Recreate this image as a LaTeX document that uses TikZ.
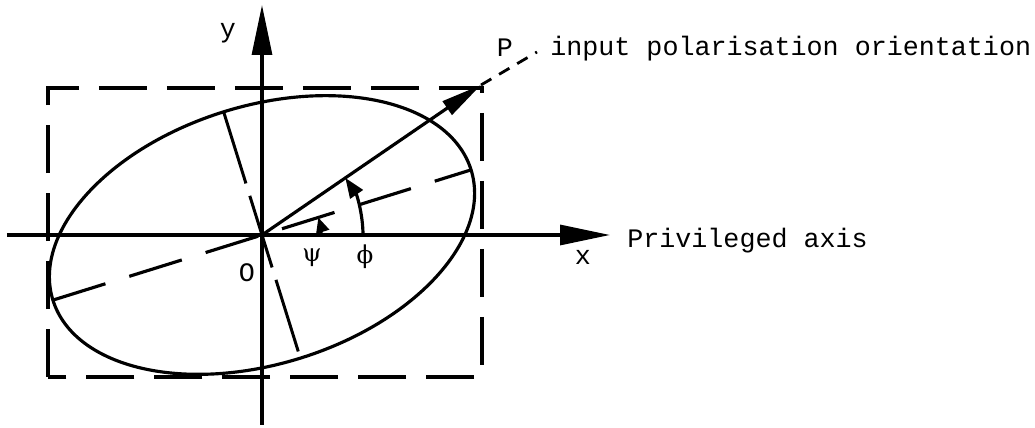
\documentclass[tikz,border=0pt]{standalone}
\usepackage{fontspec}
\setmonofont{Liberation Mono}
\newfontfamily\greekfont{DejaVu Serif}
\usetikzlibrary{arrows.meta}
\begin{document}
\begin{tikzpicture}[x=0.02cm,y=0.02cm,
  line/.style={line width=1.8pt},
  axistip/.style={-{Triangle[length=1cm,width=0.4cm]}},
  ptip/.style={-{Triangle[length=0.82cm,width=0.32cm]}},
  psitip/.style={-{Triangle[length=0.3cm,width=0.26cm]}},
  phitip/.style={-{Triangle[length=0.4cm,width=0.3cm]}},
  rectdash/.style={line width=1.8pt,dash pattern=on 0.96cm off 0.4cm},
  majdash/.style={line width=1.8pt,dash pattern=on 1.1cm off 0.5cm},
  mindash/.style={line width=1.7pt,dash pattern=on 1.5cm off 0.26cm},
  pdash/.style={line width=1.6pt,dash pattern=on 0.24cm off 0.18cm},
  lbl/.style={font=\ttfamily\fontsize{15.2}{18}\selectfont,inner sep=0pt},
  glbl/.style={font=\greekfont\fontsize{14}{16}\selectfont,inner sep=0pt}]
\useasboundingbox (-262,-193) rectangle (773,235);
% points
\coordinate (O) at (0,0);
\coordinate (ytop) at (0,230);
\coordinate (ybot) at (0,-190);
\coordinate (xleft) at (-255,0);
\coordinate (xright) at (348,0);
\coordinate (RA) at (-214,-142);
\coordinate (RB) at (220,147);
\coordinate (Ma) at (197.3:219);
\coordinate (Mb) at (17.3:219);
\coordinate (Na) at (107.3:129);
\coordinate (Nb) at (287.3:129);
\coordinate (P) at (219,150);
\coordinate (Pend) at (275,183);
% box and ellipse
\draw[rectdash] (RA) rectangle (RB);
\draw[line] (O) ellipse [x radius=219,y radius=129,rotate=17.3];
\draw[majdash] (Ma) -- (Mb);
\draw[mindash] (Na) -- (Nb);
% axes
\draw[line,axistip] (ybot) -- (ytop);
\draw[line,axistip] (xleft) -- (xright);
% P
\draw[line,ptip] (O) -- (P);
\draw[pdash] (P) -- (Pend);
% angles
\draw[line,psitip] (59,0) arc[start angle=0,end angle=17.3,radius=59];
\draw[line,phitip] (101,0) arc[start angle=0,end angle=34.4,radius=101];
% labels
\node[lbl] (ylab) at (-34,202) {y};
\node[lbl] (xlab) at (321,-22) {x};
\node[lbl] (olab) at (-15,-38) {O};
\node[glbl] (psi) at (50,-23) {ψ};
\node[glbl] (phi) at (103,-22) {ϕ};
\node[lbl] (plab) at (243,187) {P};
\node[lbl,anchor=base west] (inp) at (288,179) {input polarisation orientation};
\node[lbl,anchor=base west] (priv) at (365,-13) {Privileged axis};
\end{tikzpicture}
\end{document}
